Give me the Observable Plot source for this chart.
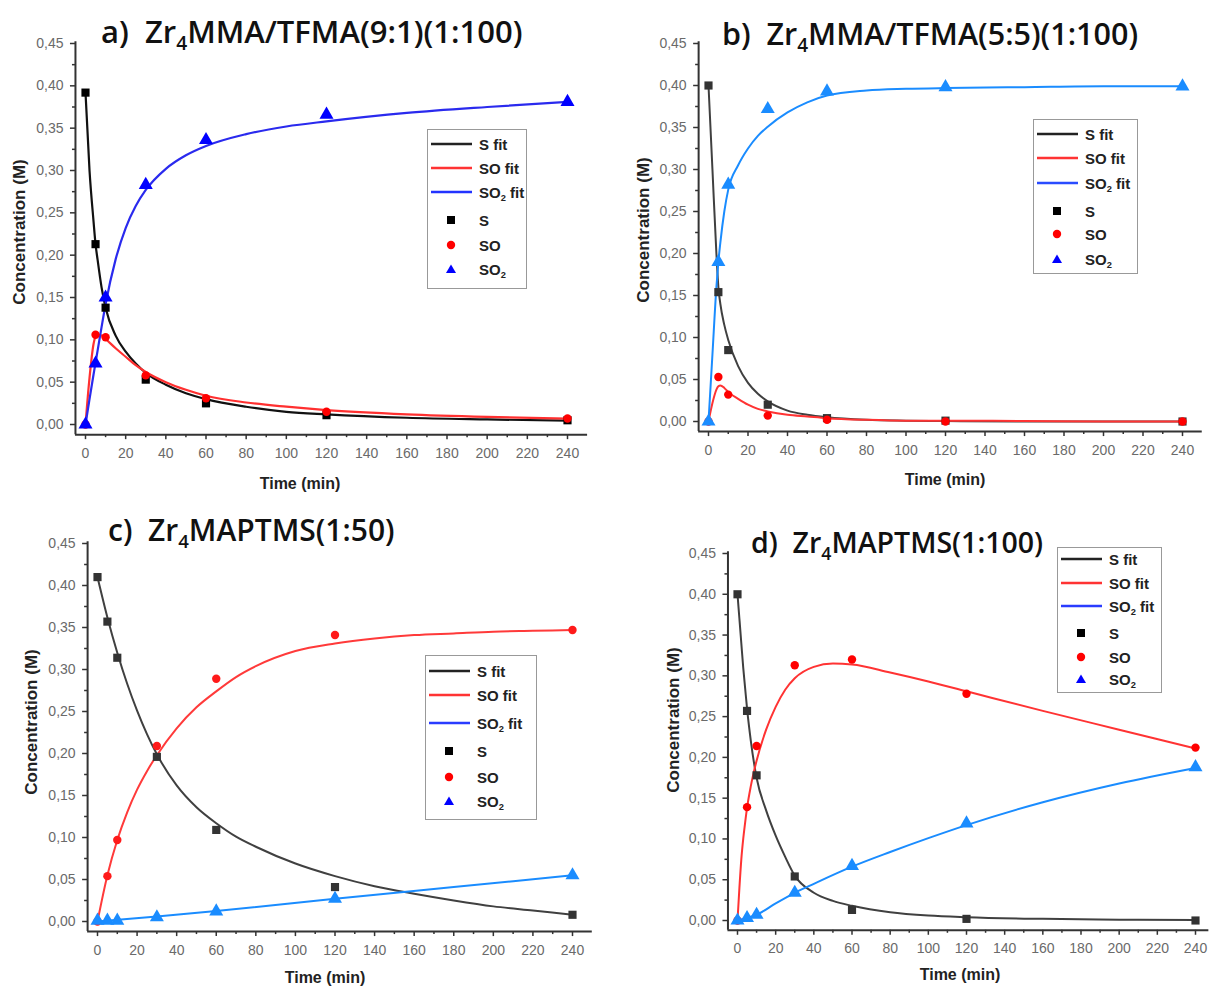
<!DOCTYPE html>
<html><head><meta charset="utf-8">
<script src="https://cdn.jsdelivr.net/npm/d3@7"></script>
<script src="https://cdn.jsdelivr.net/npm/@observablehq/plot@0.6"></script>
<style>
body{margin:0;background:#fff}
#wrap{position:relative;width:1209px;height:990px;overflow:hidden;background:#fff}
.pan{position:absolute}
.title{position:absolute;font-family:"Open Sans",sans-serif;font-weight:600;font-size:30px;color:#111;white-space:nowrap;line-height:1}
sub{font-size:62%;vertical-align:baseline;position:relative;top:0.38em}
.xl,.yl{position:absolute;font-family:"Liberation Sans",Arial,sans-serif;font-weight:bold;color:#222;white-space:nowrap;line-height:1}
.xl{transform:translate(-50%,-50%);font-size:16px}
.yl{transform:translate(-50%,-50%) rotate(-90deg);font-size:17px}
.leg{position:absolute;border:1.5px solid #999;background:#fff;box-sizing:border-box}
.row{position:absolute;left:0;height:20px;transform:translateY(-50%);display:flex;align-items:center;font-family:"Liberation Sans",Arial,sans-serif;font-weight:bold;font-size:15px;color:#222;white-space:nowrap}
.row svg{flex:none}
</style></head>
<body><div id="wrap"></div>
<script>
// ---------- data ----------
const T = [0, 5, 10, 30, 60, 120, 240];
const yMajor = [0, 0.05, 0.10, 0.15, 0.20, 0.25, 0.30, 0.35, 0.40, 0.45];
const yMinor = [0.025, 0.075, 0.125, 0.175, 0.225, 0.275, 0.325, 0.375, 0.425];
const xMajor = [0, 20, 40, 60, 80, 100, 120, 140, 160, 180, 200, 220, 240];
const xMinor = [10, 30, 50, 70, 90, 110, 130, 150, 170, 190, 210, 230];

// panel a
const aS   = [0.392, 0.213, 0.138, 0.053, 0.025, 0.011, 0.005];
const aSO  = [0, 0.106, 0.103, 0.058, 0.031, 0.015, 0.007];
const aSO2 = [0, 0.072, 0.150, 0.283, 0.336, 0.366, 0.381];
const aFitT    = [0, 2, 4, 5, 6, 8, 10, 15, 20, 25, 30, 40, 50, 60, 80, 100, 120, 160, 200, 240];
const aFitS    = [0.392, 0.30, 0.24, 0.213, 0.195, 0.162, 0.138, 0.105, 0.086, 0.072, 0.061, 0.047, 0.037, 0.030, 0.021, 0.015, 0.012, 0.008, 0.006, 0.0045];
const aFitSO   = [0, 0.055, 0.095, 0.104, 0.106, 0.105, 0.101, 0.090, 0.080, 0.070, 0.062, 0.050, 0.041, 0.034, 0.026, 0.021, 0.017, 0.012, 0.009, 0.007];
const aFitSO2  = [0, 0.030, 0.059, 0.073, 0.087, 0.115, 0.142, 0.195, 0.232, 0.258, 0.277, 0.302, 0.318, 0.329, 0.343, 0.352, 0.358, 0.368, 0.375, 0.381];

// panel b
const bS   = [0.400, 0.154, 0.085, 0.020, 0.004, 0.001, 0.000];
const bSO  = [0, 0.053, 0.032, 0.007, 0.002, 0.000, 0.000];
const bSO2 = [0, 0.190, 0.282, 0.372, 0.393, 0.398, 0.399];
const bFitT   = [0, 2, 4, 5, 6, 8, 10, 15, 20, 25, 30, 40, 50, 60, 80, 100, 120, 160, 200, 240];
const bFitS   = [0.40, 0.30, 0.20, 0.16, 0.14, 0.115, 0.097, 0.066, 0.046, 0.033, 0.024, 0.013, 0.008, 0.005, 0.002, 0.001, 0.0005, 0, 0, 0];
const bFitSO  = [0, 0.022, 0.038, 0.042, 0.043, 0.040, 0.035, 0.027, 0.020, 0.015, 0.012, 0.008, 0.006, 0.004, 0.002, 0.001, 0.001, 0.0005, 0, 0];
const bFitSO2 = [0, 0.08, 0.16, 0.19, 0.213, 0.25, 0.276, 0.305, 0.325, 0.340, 0.351, 0.368, 0.380, 0.388, 0.394, 0.396, 0.397, 0.398, 0.399, 0.399];

// panel c
const cS   = [0.410, 0.357, 0.314, 0.196, 0.109, 0.041, 0.008];
const cSO  = [0, 0.054, 0.097, 0.209, 0.289, 0.341, 0.347];
const cSO2 = [0.001, 0.001, 0.001, 0.005, 0.012, 0.027, 0.055];
const cFitT    = [0, 5, 10, 15, 20, 25, 30, 40, 50, 60, 70, 80, 100, 120, 140, 160, 180, 200, 220, 240];
const cFitS    = [0.410, 0.362, 0.320, 0.283, 0.251, 0.223, 0.199, 0.162, 0.136, 0.117, 0.101, 0.089, 0.069, 0.054, 0.042, 0.033, 0.025, 0.018, 0.013, 0.008];
const cFitSO   = [0, 0.055, 0.097, 0.130, 0.157, 0.179, 0.198, 0.230, 0.255, 0.274, 0.291, 0.304, 0.322, 0.331, 0.337, 0.341, 0.343, 0.345, 0.346, 0.347];
const cFitT2   = [0, 30, 60, 120, 180, 240];
const cFitSO2  = [0, 0.006, 0.0125, 0.027, 0.041, 0.055];

// panel d
const dS   = [0.400, 0.257, 0.178, 0.054, 0.013, 0.002, 0.000];
const dSO  = [0, 0.139, 0.214, 0.313, 0.320, 0.278, 0.212];
const dSO2 = [0, 0.003, 0.007, 0.034, 0.067, 0.119, 0.188];
const dFitT   = [0, 1, 2, 3, 4, 5, 7, 10, 15, 20, 25, 30, 40, 50, 60, 80, 100, 120, 160, 200, 240];
const dFitS   = [0.40, 0.37, 0.34, 0.31, 0.285, 0.26, 0.22, 0.175, 0.135, 0.104, 0.078, 0.055, 0.034, 0.024, 0.018, 0.010, 0.006, 0.004, 0.002, 0.001, 0.0005];
const dFitSO  = [0, 0.04, 0.075, 0.10, 0.12, 0.138, 0.165, 0.196, 0.234, 0.262, 0.283, 0.297, 0.311, 0.315, 0.314, 0.304, 0.293, 0.281, 0.257, 0.234, 0.211];
const dFitT2  = [0, 5, 10, 20, 30, 40, 60, 80, 100, 120, 160, 200, 240];
const dFitSO2 = [0, 0.003, 0.007, 0.021, 0.034, 0.045, 0.066, 0.084, 0.101, 0.117, 0.145, 0.168, 0.187];

const titles = [
  ["a)", "MMA/TFMA(9:1)(1:100)"],
  ["b)", "MMA/TFMA(5:5)(1:100)"],
  ["c)", "MAPTMS(1:50)"],
  ["d)", "MAPTMS(1:100)"]
];
const legendLabels = ["S fit", "SO fit", "SO<sub>2</sub> fit", "S", "SO", "SO<sub>2</sub>"];

// ---------- layout ----------
const panels = [
  {left:0, top:0, w:600, h:500, x0:85, x240:567, y0:424, y45:43, xmax:250,
   title:{x:101, y:16, fs:31}, xl:{x:300, y:484}, yl:{x:19, y:232},
   leg:{x:427, y:129, w:100, h:160, rows:[14,38,62,90,115,139]},
   pts:[aS,aSO,aSO2], fits:[[aFitT,aFitS],[aFitT,aFitSO],[aFitT,aFitSO2]],
   lineColors:["#111","#ff3030","#2a2aee"], ptColors:["#000","#ff0000","#0000ff"]},
  {left:600, top:0, w:609, h:500, x0:708, x240:1182, y0:421, y45:43, xmax:250,
   title:{x:722, y:18, fs:30.5}, xl:{x:945, y:480}, yl:{x:643, y:230},
   leg:{x:1033, y:119, w:105, h:155, rows:[14,38,63,91,114,139]},
   pts:[bS,bSO,bSO2], fits:[[bFitT,bFitS],[bFitT,bFitSO],[bFitT,bFitSO2]],
   lineColors:["#404040","#ff3333","#1a8cff"], ptColors:["#333","#ff0000","#1a8cff"]},
  {left:0, top:495, w:600, h:495, x0:97, x240:572, y0:921, y45:543, xmax:250,
   title:{x:108, y:515, fs:30}, xl:{x:325, y:978}, yl:{x:31, y:722},
   leg:{x:425, y:655, w:112, h:165, rows:[15,39,67,95,121,145]},
   pts:[cS,cSO,cSO2], fits:[[cFitT,cFitS],[cFitT,cFitSO],[cFitT2,cFitSO2]],
   lineColors:["#404040","#ff3a3a","#1a8cff"], ptColors:["#333","#ff1a1a","#1a8cff"]},
  {left:600, top:495, w:609, h:495, x0:737, x240:1195, y0:920, y45:553, xmax:247,
   title:{x:751, y:528, fs:28.5}, xl:{x:960, y:975}, yl:{x:673, y:720},
   leg:{x:1057, y:547, w:105, h:146, rows:[11,35,58,85,109,131]},
   pts:[dS,dSO,dSO2], fits:[[dFitT,dFitS],[dFitT,dFitSO],[dFitT2,dFitSO2]],
   lineColors:["#404040","#ff3333","#1a8cff"], ptColors:["#333","#ff0000","#1a8cff"]}
];

const legLineColors = [["#222","#ff3333","#2233ff"],["#222","#ff3333","#2a4cff"],["#222","#ff3333","#2a3cff"],["#222","#ff3333","#2a3cff"]];
const legPtColors = ["#000","#ff0000","#0000ff"];
const symbols = ["square","circle","triangle"];
const symR = [4.6, 4.2, 5.2];

const fmt = d => d.toFixed(2).replace(".", ",");
const wrap = document.getElementById("wrap");

panels.forEach((p, i) => {
  const xmin = -5, ymin = -0.012, ymax = 0.452;
  const kx = (p.x240 - p.x0) / 240, ky = (p.y0 - p.y45) / 0.45;
  const px = v => p.x0 + v * kx, py = v => p.y0 - v * ky;
  const marginLeft = px(xmin) - p.left, marginRight = p.left + p.w - px(p.xmax);
  const marginTop = py(ymax) - p.top, marginBottom = p.top + p.h - py(ymin);

  const marks = [];
  p.fits.forEach(([tt, vv], k) => {
    const rows = tt.map((t, j) => ({t, c: vv[j]}));
    marks.push(Plot.line(rows, {x: "t", y: "c", stroke: p.lineColors[k], strokeWidth: i === 0 ? 2.2 : 2, curve: "monotone-x"}));
  });
  p.pts.forEach((vv, k) => {
    const rows = T.map((t, j) => ({t, c: vv[j]}));
    marks.push(Plot.dot(rows, {x: "t", y: "c", symbol: () => symbols[k], r: symR[k], fill: p.ptColors[k], stroke: "none"}));
  });
  marks.push(
    Plot.axisY(yMajor, {tickSize: 5, tickPadding: 7, tickFormat: fmt, fontSize: 14, fill: "#6a6a6a", stroke: "#333", strokeWidth: 1.5}),
    Plot.axisY(yMinor, {tickSize: 3, tickFormat: () => "", stroke: "#333", strokeWidth: 1.5}),
    Plot.axisX(xMajor, {tickSize: 5, tickPadding: 8, fontSize: 14, fill: "#6a6a6a", stroke: "#333", strokeWidth: 1.5}),
    Plot.axisX(xMinor, {tickSize: 3, tickFormat: () => "", stroke: "#333", strokeWidth: 1.5}),
    Plot.ruleX([xmin], {stroke: "#333", strokeWidth: 2}),
    Plot.ruleY([ymin], {stroke: "#333", strokeWidth: 2})
  );

  const svg = Plot.plot({
    width: p.w, height: p.h,
    marginLeft, marginRight, marginTop, marginBottom,
    x: {domain: [xmin, p.xmax], label: null},
    y: {domain: [ymin, ymax], label: null},
    symbol: {type: "identity"},
    style: {background: "transparent", fontFamily: "'Liberation Sans', Arial, sans-serif"},
    marks
  });
  const holder = document.createElement("div");
  holder.className = "pan";
  holder.style.left = p.left + "px"; holder.style.top = p.top + "px";
  holder.appendChild(svg);
  wrap.appendChild(holder);

  const t = document.createElement("div");
  t.className = "title";
  t.style.left = p.title.x + "px"; t.style.top = p.title.y + "px"; t.style.fontSize = p.title.fs + "px";
  t.innerHTML = titles[i][0] + "&nbsp; Zr<sub>4</sub>" + titles[i][1];
  wrap.appendChild(t);

  const xl = document.createElement("div");
  xl.className = "xl"; xl.style.left = p.xl.x + "px"; xl.style.top = p.xl.y + "px";
  xl.textContent = "Time (min)";
  wrap.appendChild(xl);
  const yl = document.createElement("div");
  yl.className = "yl"; yl.style.left = p.yl.x + "px"; yl.style.top = p.yl.y + "px";
  yl.textContent = "Concentration (M)";
  wrap.appendChild(yl);

  const lg = document.createElement("div");
  lg.className = "leg";
  Object.assign(lg.style, {left: p.leg.x + "px", top: p.leg.y + "px", width: p.leg.w + "px", height: p.leg.h + "px"});
  p.leg.rows.forEach((ry, k) => {
    const row = document.createElement("div");
    row.className = "row"; row.style.top = ry + "px";
    let sym;
    if (k < 3) {
      sym = `<svg width="48" height="14"><line x1="3" y1="7" x2="44" y2="7" stroke="${legLineColors[i][k]}" stroke-width="2.4"/></svg>`;
    } else {
      const c = legPtColors[k - 3];
      const shape = k === 3 ? `<rect x="19" y="3" width="8" height="8" fill="${c}"/>`
        : k === 4 ? `<circle cx="23" cy="7" r="4.2" fill="${c}"/>`
        : `<path d="M23,2.5 L28,11 L18,11 Z" fill="${c}"/>`;
      sym = `<svg width="48" height="14">${shape}</svg>`;
    }
    row.innerHTML = sym + `<span style="margin-left:3px">${legendLabels[k]}</span>`;
    lg.appendChild(row);
  });
  wrap.appendChild(lg);
});
</script>
</body></html>
